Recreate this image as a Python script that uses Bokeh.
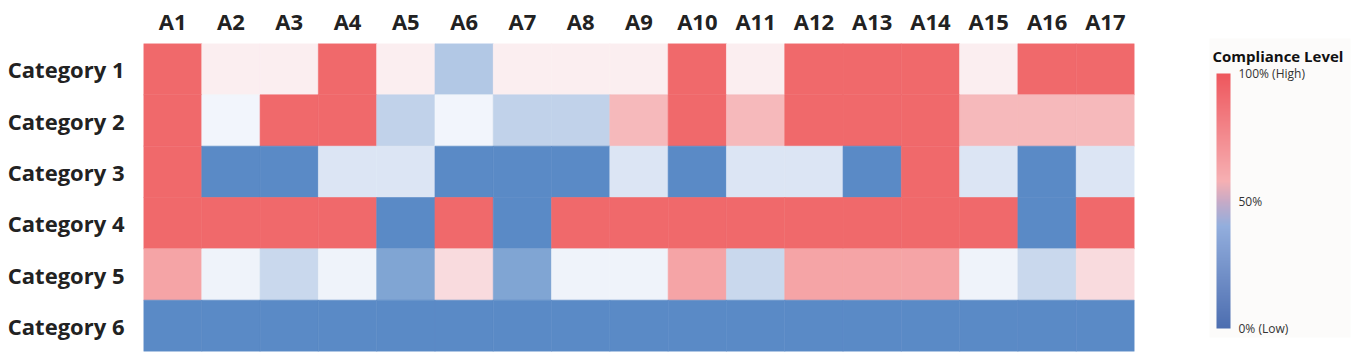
from bokeh.plotting import figure
from bokeh.models import (LinearColorMapper, ColorBar, FixedTicker, ColumnDataSource,
                          FactorRange)
from bokeh.transform import transform
from bokeh.embed import file_html
from bokeh.resources import INLINE

columns = ["A1", "A2", "A3", "A4", "A5", "A6", "A7", "A8", "A9", "A10",
           "A11", "A12", "A13", "A14", "A15", "A16", "A17"]
categories = ["Category 1", "Category 2", "Category 3", "Category 4", "Category 5", "Category 6"]

cat1 = [100, 55, 55, 100, 55, 27, 55, 55, 55, 100, 55, 100, 100, 100, 55, 100, 100]
cat2 = [100, 47, 100, 100, 32, 47, 32, 32, 73, 100, 73, 100, 100, 100, 73, 73, 73]
cat3 = [100, 0, 0, 40, 40, 0, 0, 0, 40, 0, 40, 40, 0, 100, 40, 0, 40]
cat4 = [100, 100, 100, 100, 0, 100, 0, 100, 100, 100, 100, 100, 100, 100, 100, 0, 100]
cat5 = [80, 46, 34, 46, 12, 61, 12, 46, 46, 80, 34, 80, 80, 80, 46, 34, 61]
cat6 = [0] * 17

tick_values = [0, 50, 100]
tick_labels = ["0% (Low)", "50%", "100% (High)"]
legend_title = "Compliance Level"

FONT = "Open Sans"


def hex2rgb(h):
    h = h.lstrip("#")
    return tuple(int(h[i:i + 2], 16) for i in (0, 2, 4))


def build_palette(stops, n=256):
    out = []
    for i in range(n):
        t = i / (n - 1)
        for j in range(len(stops) - 1):
            p0, c0 = stops[j]
            p1, c1 = stops[j + 1]
            if p0 <= t <= p1:
                f = 0 if p1 == p0 else (t - p0) / (p1 - p0)
                a, b = hex2rgb(c0), hex2rgb(c1)
                rgb = [round(a[k] + (b[k] - a[k]) * f) for k in range(3)]
                out.append("#%02x%02x%02x" % tuple(rgb))
                break
    return out


cell_palette = build_palette([(0, "#5a8ac6"), (0.5, "#fcfcff"), (1, "#f0696b")])
bar_palette = build_palette([(0, "#4d6eb0"), (0.4, "#93aedd"), (0.5, "#c8aac6"),
                             (0.58, "#f6b0b3"), (1, "#ee575d")])

rows_data = [cat1, cat2, cat3, cat4, cat5, cat6]
xs, ys, vs = [], [], []
for cat, vals in zip(categories, rows_data):
    for c, v in zip(columns, vals):
        xs.append(c)
        ys.append(cat)
        vs.append(v)
source = ColumnDataSource(dict(x=xs, y=ys, v=vs))

mapper = LinearColorMapper(palette=cell_palette, low=0, high=100)

p = figure(width=1351, height=355, x_range=FactorRange(factors=columns),
           y_range=FactorRange(factors=list(reversed(categories))),
           x_axis_location="above", output_backend="svg", toolbar_location=None,
           min_border_left=143, min_border_top=43, min_border_bottom=4, min_border_right=217)
p.rect(x="x", y="y", width=1, height=1, source=source,
       fill_color=transform("v", mapper), line_color=transform("v", mapper), line_width=0.6)
p.outline_line_color = None
p.grid.grid_line_color = None
for ax in (p.xaxis[0], p.yaxis[0]):
    ax.axis_line_color = None
    ax.major_tick_line_color = None
    ax.minor_tick_line_color = None
    ax.major_label_text_font = FONT
    ax.major_label_text_font_style = "bold"
    ax.major_label_text_font_size = "22px"
    ax.major_label_text_color = "#222222"
p.xaxis.major_label_standoff = 2
p.yaxis.major_label_standoff = 13

bar_mapper = LinearColorMapper(palette=bar_palette, low=0, high=100)

# legend frame with horizontal title (an empty horizontal colour bar used as a box)
frame_cb = ColorBar(color_mapper=bar_mapper, ticker=FixedTicker(ticks=[]),
                    orientation="horizontal", title=legend_title, title_text_font=FONT,
                    title_text_font_style="bold", title_text_font_size="15px",
                    title_text_color="#111111", title_standoff=4,
                    width=136, height=267, padding=3, margin=0, scale_alpha=0,
                    major_label_text_alpha=0, major_tick_line_color=None,
                    minor_tick_line_color=None, bar_line_color=None,
                    background_fill_color="#fcfbfa", background_fill_alpha=1.0,
                    border_line_color=None, location=(1066, 14))
p.add_layout(frame_cb, "center")

cb = ColorBar(color_mapper=bar_mapper, ticker=FixedTicker(ticks=tick_values),
              major_label_overrides={v: l for v, l in zip(tick_values, tick_labels)},
              major_label_text_font=FONT, major_label_text_font_size="12px",
              major_label_text_color="#333333", orientation="vertical",
              width=14, height=255, padding=0, margin=0, label_standoff=8,
              major_tick_line_color=None, bar_line_color=None,
              background_fill_alpha=0, border_line_color=None,
              location=(1073, 23))
p.add_layout(cb, "center")

open("out.html", "w").write(file_html(p, INLINE))
